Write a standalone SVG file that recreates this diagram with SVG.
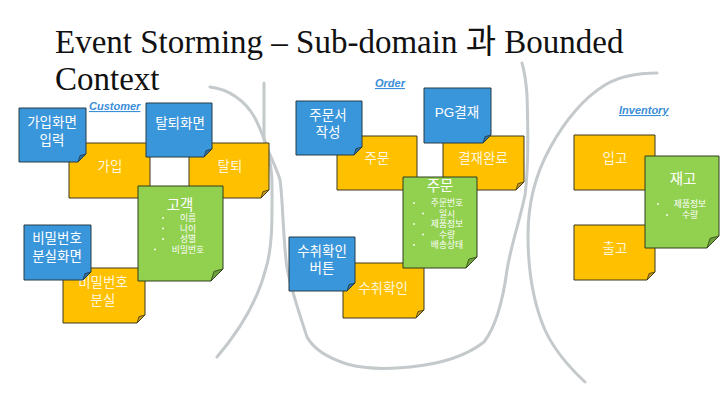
<svg xmlns="http://www.w3.org/2000/svg" width="720" height="405" viewBox="0 0 720 405">
<style>
.title{font-family:"Liberation Serif","Noto Sans CJK KR",serif;font-size:33px;fill:#111}
.ctx{font-family:"Liberation Sans",Arial,sans-serif;font-size:11px;font-weight:bold;font-style:italic;fill:#3b8ed8;text-decoration:underline}
.b{fill:#3a96db;stroke:#263a44;stroke-width:1}
.y{fill:#ffc000;stroke:#3a3a1e;stroke-width:1}
.g{fill:#92d050;stroke:#2f3f1e;stroke-width:1}
.bf{fill:#2c6e9e;stroke:#263a44;stroke-width:0.8}
.yf{fill:#c7961c;stroke:#3a3a1e;stroke-width:0.8}
.gf{fill:#6fa13a;stroke:#2f3f1e;stroke-width:0.8}
.t{font-family:"Liberation Sans","Noto Sans CJK KR",sans-serif;font-size:13.5px;fill:#fff;text-anchor:middle;dominant-baseline:central}
.ty{fill:#fff6dc}
.h{font-size:14.5px}
.s{font-size:8.8px}
.dot{fill:#fff}
.bd{fill:none;stroke:#c4c9cb;stroke-width:3;stroke-linecap:round;stroke-linejoin:round}
</style>
<rect width="720" height="405" fill="#fff"/>
<text class="title" x="55" y="53">Event Storming – Sub-domain 과 Bounded<tspan x="55" y="90">Context</tspan></text>

<g id="boundaries">
<path class="bd" d="M210 87 C228 89 245 100 255 118 C266 140 272 160 272 185 C272 215 273 245 266 268 C258 300 240 330 217 357"/>
<path class="bd" d="M264 83 L264 137 C266 150 276 165 280 180 C283 200 283 240 287 268 C291 290 300 315 307 337 C313 348 325 357 347 364 C365 369 390 369 410 367 C440 364 465 357 484 342 C497 325 503 300 507 270 C511 245 520 220 525 195 C529 165 528 125 527 95 C526 80 524 70 522 63"/>
<path class="bd" d="M657 73 C640 73 620 76 605 85 C585 97 565 120 550 148 C535 175 528 205 528 235 C528 270 532 300 545 330 C555 352 570 368 585 382"/>
</g>

<g id="labels">
<text class="ctx" x="89" y="110">Customer</text>
<text class="ctx" x="375" y="87">Order</text>
<text class="ctx" x="619" y="114">Inventory</text>
</g>

<!-- Customer -->
<g id="evt-join">
<path class="y" d="M69 143 H150 V190 L142 198 H69 Z"/><path class="yf" d="M150 190 L142 198 L144 191.6 Z"/>
<text class="t ty" x="110" y="166">가입</text>
</g>
<g id="evt-leave">
<path class="y" d="M189 143 H269 V190 L261 198 H189 Z"/><path class="yf" d="M269 190 L261 198 L263 191.6 Z"/>
<text class="t ty" x="230" y="166">탈퇴</text>
</g>
<g id="evt-pwlost">
<path class="y" d="M63 268 H145 V315 L137 323 H63 Z"/><path class="yf" d="M145 315 L137 323 L139 316.6 Z"/>
<text class="t ty" x="103" y="282.5">비밀번호<tspan x="103" y="299.5">분실</tspan></text>
</g>
<g id="agg-customer">
<path class="g" d="M138 186 H223 V269 L211 281 H138 Z"/><path class="gf" d="M223 269 L211 281 L214 271.4 Z"/>
<circle class="dot" cx="163" cy="218" r="0.9"/>
<circle class="dot" cx="163" cy="228.5" r="0.9"/>
<circle class="dot" cx="163" cy="239" r="0.9"/>
<circle class="dot" cx="155" cy="249.5" r="0.9"/>
<text class="t"><tspan class="h" x="180" y="204.5">고객</tspan><tspan class="s" x="188" y="218">이름</tspan><tspan class="s" x="188" y="228.5">나이</tspan><tspan class="s" x="188" y="239">성별</tspan><tspan class="s" x="188" y="249.5">비밀번호</tspan></text>
</g>
<g id="cmd-join">
<path class="b" d="M19 108 H86 V154 L78 162 H19 Z"/><path class="bf" d="M86 154 L78 162 L80 155.6 Z"/>
<text class="t" x="52" y="122">가입화면<tspan x="52" y="140">입력</tspan></text>
</g>
<g id="cmd-leave">
<path class="b" d="M146 103 H212 V149 L204 157 H146 Z"/><path class="bf" d="M212 149 L204 157 L206 150.6 Z"/>
<text class="t" x="180" y="123">탈퇴화면</text>
</g>
<g id="cmd-pwlost">
<path class="b" d="M24 225 H91 V272 L83 280 H24 Z"/><path class="bf" d="M91 272 L83 280 L85 273.6 Z"/>
<text class="t" x="57" y="238">비밀번호<tspan x="57" y="256">분실화면</tspan></text>
</g>

<!-- Order -->
<g id="evt-order">
<path class="y" d="M337 136 H417 V182 L409 190 H337 Z"/><path class="yf" d="M417 182 L409 190 L411 183.6 Z"/>
<text class="t ty" x="377" y="158">주문</text>
</g>
<g id="evt-paid">
<path class="y" d="M443 136 H524 V182 L516 190 H443 Z"/><path class="yf" d="M524 182 L516 190 L518 183.6 Z"/>
<text class="t ty" x="483" y="158">결재완료</text>
</g>
<g id="evt-received">
<path class="y" d="M343 263 H424 V310 L416 318 H343 Z"/><path class="yf" d="M424 310 L416 318 L418 311.6 Z"/>
<text class="t ty" x="383" y="288">수취확인</text>
</g>
<g id="agg-order">
<path class="g" d="M403 177 H477 V257 L466 268 H403 Z"/><path class="gf" d="M477 257 L466 268 L468.8 259.2 Z"/>
<circle class="dot" cx="414" cy="203" r="0.9"/>
<circle class="dot" cx="423" cy="213.5" r="0.9"/>
<circle class="dot" cx="414" cy="224" r="0.9"/>
<circle class="dot" cx="423" cy="234.5" r="0.9"/>
<circle class="dot" cx="414" cy="245" r="0.9"/>
<text class="t"><tspan class="h" x="440" y="186">주문</tspan><tspan class="s" x="447" y="203">주문번호</tspan><tspan class="s" x="447" y="213.5">일시</tspan><tspan class="s" x="447" y="224">제품정보</tspan><tspan class="s" x="447" y="234.5">수량</tspan><tspan class="s" x="447" y="245">배송상태</tspan></text>
</g>
<g id="cmd-order">
<path class="b" d="M296 101 H362 V147 L354 155 H296 Z"/><path class="bf" d="M362 147 L354 155 L356 148.6 Z"/>
<text class="t" x="328" y="115">주문서<tspan x="328" y="132">작성</tspan></text>
</g>
<g id="cmd-pay">
<path class="b" d="M424 88 H491 V135 L483 143 H424 Z"/><path class="bf" d="M491 135 L483 143 L485 136.6 Z"/>
<text class="t" x="457" y="112">PG결재</text>
</g>
<g id="cmd-receive">
<path class="b" d="M289 237 H355 V283 L347 291 H289 Z"/><path class="bf" d="M355 283 L347 291 L349 284.6 Z"/>
<text class="t" x="322" y="251.5">수취확인<tspan x="322" y="267.5">버튼</tspan></text>
</g>

<!-- Inventory -->
<g id="evt-in">
<path class="y" d="M574 135 H655 V182 L647 190 H574 Z"/><path class="yf" d="M655 182 L647 190 L649 183.6 Z"/>
<text class="t ty" x="615" y="158">입고</text>
</g>
<g id="evt-out">
<path class="y" d="M574 225 H655 V272 L647 280 H574 Z"/><path class="yf" d="M655 272 L647 280 L649 273.6 Z"/>
<text class="t ty" x="615" y="248">출고</text>
</g>
<g id="agg-stock">
<path class="g" d="M645 156 H719 V236 L707 248 H645 Z"/><path class="gf" d="M719 236 L707 248 L710 238.4 Z"/>
<circle class="dot" cx="658" cy="204" r="0.9"/>
<circle class="dot" cx="667" cy="215" r="0.9"/>
<text class="t"><tspan class="h" x="683" y="179">재고</tspan><tspan class="s" x="690" y="204">제품정보</tspan><tspan class="s" x="690" y="215">수량</tspan></text>
</g>
</svg>
